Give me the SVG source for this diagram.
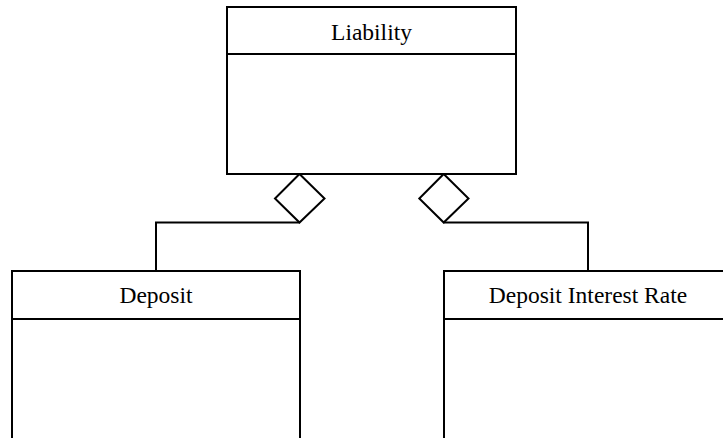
<svg xmlns="http://www.w3.org/2000/svg" width="723" height="438" viewBox="0 0 723 438">
  <style>
    .box { fill: #ffffff; stroke: #000000; stroke-width: 2; }
    .line { fill: none; stroke: #000000; stroke-width: 2; }
    .diamond { fill: #ffffff; stroke: #000000; stroke-width: 2; stroke-linejoin: miter; }
    .label { font-family: "Liberation Serif", "Times New Roman", serif; font-size: 23.5px; fill: #000000; text-anchor: middle; }
  </style>
  <rect width="723" height="438" fill="#ffffff"/>

  <!-- aggregation connectors -->
  <g id="connectors">
    <polyline class="line" points="299.5,222.5 156,222.5 156,271"/>
    <polyline class="line" points="443.7,222.5 588,222.5 588,271"/>
    <polygon class="diamond" points="299.5,174 324.5,198.5 299.5,222.5 275,198.5"/>
    <polygon class="diamond" points="443.7,174 468.5,198.5 443.7,222.5 419.3,198.5"/>
  </g>

  <!-- class: Liability -->
  <g id="liability">
    <rect class="box" x="227" y="7" width="289" height="167"/>
    <line class="line" x1="227" y1="54" x2="516" y2="54"/>
    <text class="label" x="371.5" y="40">Liability</text>
  </g>

  <!-- class: Deposit -->
  <g id="deposit">
    <rect class="box" x="12" y="271" width="288" height="175"/>
    <line class="line" x1="12" y1="319" x2="300" y2="319"/>
    <text class="label" x="156" y="303">Deposit</text>
  </g>

  <!-- class: Deposit Interest Rate -->
  <g id="deposit-interest-rate">
    <rect class="box" x="444" y="271" width="288" height="175"/>
    <line class="line" x1="444" y1="319" x2="732" y2="319"/>
    <text class="label" x="588" y="303">Deposit Interest Rate</text>
  </g>
</svg>
